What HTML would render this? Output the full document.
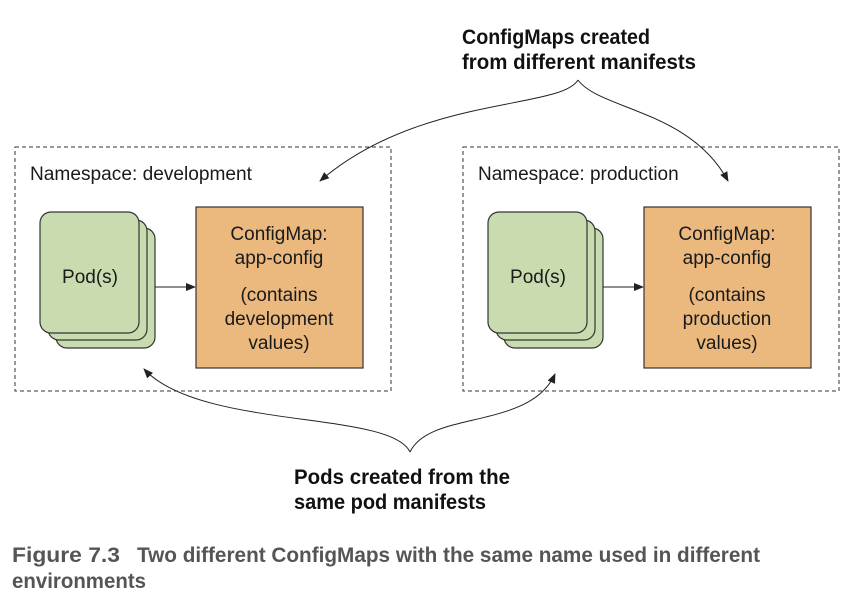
<!DOCTYPE html>
<html><head><meta charset="utf-8"><style>
body{margin:0;background:#fff;}
svg{display:block}
.t{font-family:"Liberation Sans",sans-serif;font-size:19px;fill:#1a1a1a}
.b{font-family:"Liberation Sans",sans-serif;font-weight:bold;font-size:21px;fill:#111}
.c{font-family:"Liberation Sans",sans-serif;font-weight:bold;font-size:21px;fill:#555}
</style></head><body>
<svg width="854" height="612" viewBox="0 0 854 612">
<defs><marker id="a" markerWidth="10" markerHeight="8" refX="9" refY="4" orient="auto" markerUnits="userSpaceOnUse"><path d="M0,0L10,4L0,8z" fill="#222"/></marker></defs>
<rect x="15" y="147" width="376" height="244" fill="none" stroke="#333" stroke-dasharray="4,3"/>
<rect x="463" y="147" width="376" height="244" fill="none" stroke="#333" stroke-dasharray="4,3"/>
<text class="t" x="30" y="180" textLength="222" lengthAdjust="spacingAndGlyphs">Namespace: development</text>
<text class="t" x="478" y="180">Namespace: production</text>
<g id="p">
<rect x="56" y="228" width="99" height="120" rx="11" fill="#c8dcb0" stroke="#333" stroke-width="1.2"/>
<rect x="48" y="220" width="99" height="120" rx="11" fill="#c8dcb0" stroke="#333" stroke-width="1.2"/>
<rect x="40" y="212" width="99" height="121" rx="11" fill="#c8dcb0" stroke="#333" stroke-width="1.2"/>
<text class="t" x="90" y="283" text-anchor="middle">Pod(s)</text>
<line x1="155" y1="287" x2="195" y2="287" stroke="#222" marker-end="url(#a)"/>
</g>
<use href="#p" x="448"/>
<rect x="196" y="207" width="167" height="161" fill="#ebb87d" stroke="#333" stroke-width="1.2"/>
<rect x="644" y="207" width="167" height="161" fill="#ebb87d" stroke="#333" stroke-width="1.2"/>
<g class="t" text-anchor="middle">
<text x="279" y="240">ConfigMap:</text><text x="279" y="264">app-config</text>
<text x="279" y="301">(contains</text><text x="279" y="325">development</text><text x="279" y="349">values)</text>
<text x="727" y="240">ConfigMap:</text><text x="727" y="264">app-config</text>
<text x="727" y="301">(contains</text><text x="727" y="325">production</text><text x="727" y="349">values)</text>
</g>
<text class="b" x="462" y="44" textLength="188" lengthAdjust="spacingAndGlyphs">ConfigMaps created</text>
<text class="b" x="462" y="69" textLength="234" lengthAdjust="spacingAndGlyphs">from different manifests</text>
<text class="b" x="294" y="484" textLength="216" lengthAdjust="spacingAndGlyphs">Pods created from the</text>
<text class="b" x="294" y="509" textLength="192" lengthAdjust="spacingAndGlyphs">same pod manifests</text>
<path d="M578,80 C560,110 420,95 320,181" fill="none" stroke="#222" marker-end="url(#a)"/>
<path d="M578,80 C600,110 690,110 728,181" fill="none" stroke="#222" marker-end="url(#a)"/>
<path d="M410,452 C390,410 200,430 144,369" fill="none" stroke="#222" marker-end="url(#a)"/>
<path d="M410,452 C430,410 530,430 555,374" fill="none" stroke="#222" marker-end="url(#a)"/>
<text class="c" x="12" y="562" textLength="108" lengthAdjust="spacingAndGlyphs">Figure 7.3</text>
<text class="c" x="137" y="562" textLength="623" lengthAdjust="spacingAndGlyphs">Two different ConfigMaps with the same name used in different</text>
<text class="c" x="12" y="588" textLength="134" lengthAdjust="spacingAndGlyphs">environments</text>
</svg>
</body></html>
